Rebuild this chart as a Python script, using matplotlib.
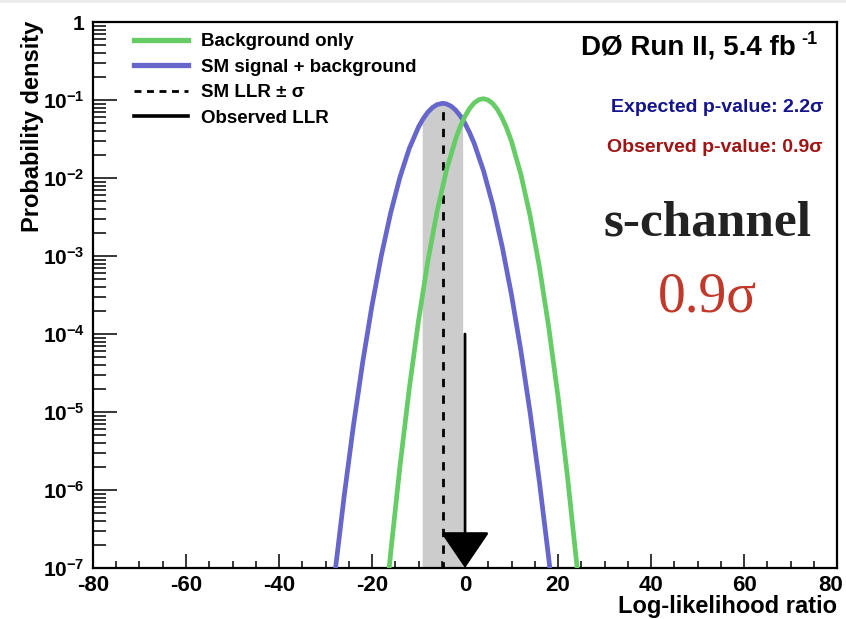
import numpy as np
import matplotlib
matplotlib.use("Agg")
import matplotlib.pyplot as plt
from matplotlib.lines import Line2D
from matplotlib.patches import Rectangle
from matplotlib.transforms import ScaledTranslation

# LLR distributions (probability density vs log-likelihood ratio)
llr_bkg = [-18, -16, -14, -12, -10, -8, -6, -4, -2, -1, 0, 1, 2, 3, 4, 5, 6, 7,
           8, 9, 10, 12, 14, 16, 18, 20, 22, 24, 26]
pdf_bkg = [8.99e-9, 1.53e-7, 1.99e-6, 1.97e-5, 1.484e-4, 8.53e-4, 3.74e-3,
           1.252e-2, 3.19e-2, 4.60e-2, 6.20e-2, 7.81e-2, 9.19e-2, 1.011e-1,
           1.039e-1, 9.97e-2, 8.95e-2, 7.50e-2, 5.87e-2, 4.30e-2,
           2.94e-2, 1.123e-2, 3.27e-3, 7.25e-4, 1.227e-4, 1.584e-5, 1.557e-6,
           1.167e-7, 6.67e-9]

llr_sb = [-28, -26, -24, -22, -20, -18, -16, -14, -12, -10, -9, -8, -7, -6,
          -4.8, -4, -3, -2, -1, 0, 1, 2, 4, 6, 8, 10, 12, 14, 16, 18, 20]
pdf_sb = [8.31e-8, 8.24e-7, 6.64e-6, 4.35e-5, 2.32e-4, 1.007e-3, 3.55e-3,
          1.019e-2, 2.38e-2, 4.51e-2, 5.75e-2, 6.96e-2, 8.00e-2, 8.74e-2,
          9.07e-2, 8.92e-2, 8.34e-2, 7.41e-2, 6.25e-2, 5.00e-2, 3.80e-2,
          2.75e-2, 1.227e-2, 4.46e-3, 1.317e-3, 3.17e-4,
          6.18e-5, 9.83e-6, 1.27e-6, 1.34e-7, 1.14e-8]

sm_median = -4.8
sm_minus_sigma = -9.1
sm_plus_sigma = -0.4
observed_llr = 0.0
observed_arrow_top = 1e-4

legend_labels = ["Background only", "SM signal + background",
                 "SM LLR \u00b1 \u03c3", "Observed LLR"]
x_ticks = [-80, -60, -40, -20, 0, 20, 40, 60, 80]
y_decades = [-7, -6, -5, -4, -3, -2, -1, 0]

SANS = "Liberation Sans"
SERIF = "Liberation Serif"

plt.rcParams["font.family"] = [SANS, "DejaVu Sans"]
plt.rcParams["mathtext.fontset"] = "custom"
for key in ("rm", "bf", "it", "sf"):
    plt.rcParams[f"mathtext.{key}"] = f"{SANS}:bold"

GREEN = "#66cc66"
BLUE = "#6666cc"

W, H = 846, 619
fig = plt.figure(figsize=(W / 100, H / 100), dpi=100)
fig.patches.append(Rectangle((0, 1 - 3 / H), 1, 3 / H, transform=fig.transFigure,
                             color="#ececec", lw=0, zorder=0))
left, right, top, bottom = 93, 837, 22, 568
ax = fig.add_axes([left / W, 1 - bottom / H, (right - left) / W, (bottom - top) / H])

ax.set_yscale("log")
ax.set_xlim(-80, 80)
ax.set_ylim(1e-7, 1)

# +/- 1 sigma band under the s+b curve
xs = np.array(llr_sb)
ys = np.array(pdf_sb)
inside = (xs > sm_minus_sigma) & (xs < sm_plus_sigma)
band_x = np.concatenate([[sm_minus_sigma], xs[inside], [sm_plus_sigma]])
band_y = 10 ** np.interp(band_x, xs, np.log10(ys))
ax.fill_between(band_x, band_y, 1e-9, color="#cccccc", lw=0, zorder=1)

# median of the s+b distribution
median_y = 10 ** np.interp(sm_median, xs, np.log10(ys))
ax.plot([sm_median, sm_median], [1e-9, median_y], color="black", lw=2,
        dashes=(3, 3), zorder=2)

ax.plot(llr_sb, pdf_sb, color=BLUE, lw=3.4, zorder=3)
ax.plot(llr_bkg, pdf_bkg, color=GREEN, lw=3.4, zorder=3)

# observed LLR arrow
ax.annotate("", xy=(observed_llr, 1e-7), xytext=(observed_llr, observed_arrow_top),
            arrowprops=dict(arrowstyle="-|>,head_length=1.15,head_width=0.78",
                            mutation_scale=20, lw=2, color="black",
                            shrinkA=0, shrinkB=0),
            zorder=5)

# axes styling
for s in ax.spines.values():
    s.set_linewidth(1.6)
ax.set_xticks(x_ticks)
ax.set_xticks(np.arange(-80, 81, 5), minor=True)
ax.set_xticklabels([str(v) for v in x_ticks], fontweight="bold", fontsize=16)
ax.set_yticks([10.0 ** d for d in y_decades])
ax.set_yticklabels(["1" if d == 0 else r"$\mathbf{10^{%d}}$" % d for d in y_decades],
                   fontsize=15, fontweight="bold")
ax.yaxis.set_minor_locator(matplotlib.ticker.LogLocator(base=10, subs=np.arange(2, 10)))
ax.yaxis.set_minor_formatter(matplotlib.ticker.NullFormatter())
ax.tick_params(axis="both", which="both", direction="in", top=False, right=False,
               width=1.1)
ax.tick_params(axis="y", which="major", length=17, pad=6)
ax.tick_params(axis="y", which="minor", length=9)
ax.tick_params(axis="x", which="major", length=10, pad=5)
ax.tick_params(axis="x", which="minor", length=5)
last = ax.get_xticklabels()[-1]
last.set_horizontalalignment("right")
last.set_transform(last.get_transform() + ScaledTranslation(6 / 100, 0, fig.dpi_scale_trans))

fig.text(837 / W, 1 - 607 / H, "Log-likelihood ratio", ha="right", va="center",
         fontsize=17, fontweight="bold")
fig.text(33 / W, 1 - 21 / H, "Probability density", ha="center", va="top",
         rotation=90, fontsize=17, fontweight="bold")

# legend
handles = [Line2D([], [], color=GREEN, lw=3.8),
           Line2D([], [], color=BLUE, lw=3.8),
           Line2D([], [], color="black", lw=2, dashes=(2.5, 2)),
           Line2D([], [], color="black", lw=2.6)]
ax.legend(handles, legend_labels, loc="upper left",
          bbox_to_anchor=(134 / W, 1 - 33 / H), bbox_transform=fig.transFigure,
          frameon=False, handlelength=2.9, handletextpad=0.65,
          labelspacing=0.45, borderpad=0, borderaxespad=0,
          prop=dict(family=SANS, weight="bold", size=13.5))

# annotations
fig.text(796 / W, 1 - 47.5 / H, "D\u00d8 Run II, 5.4 fb", ha="right", va="center",
         fontsize=20, fontweight="bold")
fig.text(801 / W, 1 - 40 / H, "-1", ha="left", va="center",
         fontsize=13, fontweight="bold")
fig.text(823 / W, 1 - 108 / H, "Expected p-value: 2.2\u03c3", ha="right", va="center",
         fontsize=14, fontweight="bold", color="#14148c")
fig.text(823 / W, 1 - 147 / H, "Observed p-value: 0.9\u03c3", ha="right", va="center",
         fontsize=14, fontweight="bold", color="#a01414")
fig.text(707 / W, 1 - 223 / H, "s-channel", ha="center", va="center",
         fontsize=37, fontweight="bold", color="#222222", fontfamily=SERIF)
fig.text(707 / W, 1 - 297 / H, "0.9\u03c3", ha="center", va="center",
         fontsize=40, color="#c0392b", fontfamily=SERIF)

fig.savefig("out.png", dpi=100)
